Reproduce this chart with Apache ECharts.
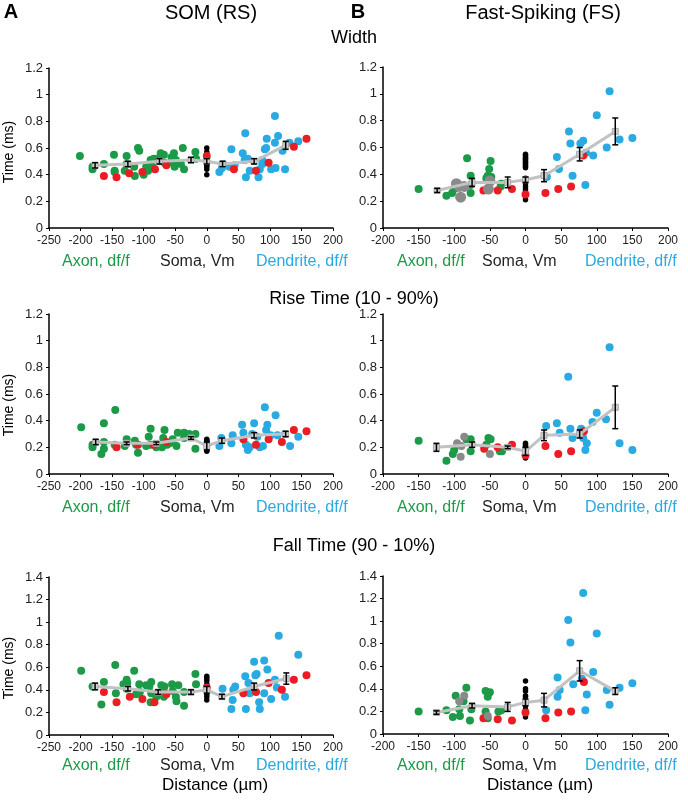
<!DOCTYPE html>
<html>
<head>
<meta charset="utf-8">
<script src="https://cdn.jsdelivr.net/npm/echarts@6/dist/echarts.min.js"></script>
<style>
  html, body { margin: 0; padding: 0; background: #fff; }
  #chart { width: 688px; height: 804px; }
</style>
</head>
<body>
<div id="chart"></div>
<script>
// ---- SOM (RS), Width ----
var somWidthAxon = [[-201,0.54],[-181,0.46],[-181,0.44],[-163,0.48],[-147,0.55],[-146,0.43],[-146,0.42],[-127,0.54],[-127,0.48],[-130,0.43],[-115,0.46],[-114,0.39],[-109,0.60],[-107,0.58],[-100,0.40],[-96,0.46],[-93,0.43],[-89,0.51],[-86,0.46],[-84,0.52],[-79,0.52],[-75,0.50],[-73,0.56],[-68,0.55],[-67,0.49],[-56,0.53],[-54,0.49],[-52,0.56],[-51,0.46],[-49,0.51],[-41,0.48],[-38,0.60],[-36,0.44],[-18,0.57],[-17,0.52]];
var somWidthRed = [[-163,0.39],[-143,0.38],[-123,0.41],[-102,0.42],[-82,0.44],[-64,0.47],[0,0.54],[43,0.44],[78,0.43],[98,0.49],[138,0.61],[158,0.67]];
var somWidthSoma = [0.60,0.57,0.53,0.50,0.47,0.46,0.44,0.40];
var somWidthDend = [[20,0.42],[24,0.45],[26,0.48],[36,0.46],[39,0.59],[44,0.47],[57,0.56],[60,0.51],[61,0.71],[62,0.38],[65,0.52],[68,0.43],[82,0.38],[84,0.44],[88,0.48],[88,0.51],[92,0.59],[94,0.60],[95,0.67],[102,0.44],[108,0.84],[108,0.64],[109,0.45],[113,0.69],[120,0.58],[124,0.44],[131,0.64],[145,0.65]];
var somWidthMean = [[-177,0.47],[-125,0.48],[-75,0.50],[-25,0.51],[0,0.50],[25,0.48],[75,0.50],[125,0.62]];
var somWidthErr = [0.02,0.02,0.02,0.02,0.02,0.02,0.02,0.03];

// ---- FS, Width ----
var fsWidthAxon = [[-150,0.29],[-111,0.24],[-103,0.26],[-100,0.29],[-82,0.52],[-77,0.39],[-77,0.26],[-77,0.32],[-55,0.37],[-53,0.39],[-51,0.44],[-49,0.50],[-48,0.38],[-35,0.31],[-34,0.33]];
var fsWidthGray = [[-97,0.33],[-93,0.31],[-86,0.31],[-91,0.23],[-50,0.35],[-52,0.29]];
var fsWidthRed = [[-59,0.28],[-39,0.28],[-19,0.29],[0,0.25],[28,0.26],[46,0.29],[64,0.31],[81,0.54]];
var fsWidthSoma = [0.55,0.54,0.53,0.52,0.51,0.50,0.49,0.48,0.47,0.46,0.45,0.37,0.36,0.35,0.33,0.31,0.29,0.27,0.24,0.21];
var fsWidthDend = [[30,0.38],[44,0.53],[47,0.44],[61,0.72],[63,0.63],[66,0.39],[77,0.63],[81,0.65],[85,0.56],[84,0.32],[95,0.54],[100,0.84],[114,0.60],[118,1.02],[132,0.66],[150,0.67]];
var fsWidthMean = [[-124,0.28],[-75,0.34],[-25,0.34],[0,0.36],[26,0.39],[76,0.55],[126,0.72]];
var fsWidthErr = [0.015,0.03,0.04,0.02,0.045,0.05,0.10];

// ---- SOM (RS), Rise time ----
var somRiseAxon = [[-199,0.35],[-181,0.22],[-181,0.20],[-167,0.15],[-163,0.38],[-163,0.24],[-163,0.19],[-145,0.48],[-146,0.22],[-127,0.26],[-130,0.21],[-114,0.25],[-112,0.22],[-109,0.16],[-96,0.21],[-89,0.34],[-92,0.28],[-89,0.22],[-80,0.20],[-71,0.20],[-67,0.33],[-69,0.27],[-63,0.22],[-59,0.23],[-54,0.26],[-48,0.21],[-46,0.31],[-36,0.31],[-36,0.27],[-28,0.30],[-18,0.30],[-18,0.19]];
var somRiseRed = [[-143,0.20],[-109,0.22],[-84,0.22],[-64,0.24],[58,0.26],[78,0.22],[98,0.26],[119,0.24],[138,0.33],[158,0.32]];
var somRiseSoma = [0.26,0.25,0.24,0.23,0.22,0.20,0.18,0.17];
var somRiseDend = [[20,0.21],[23,0.27],[39,0.23],[41,0.29],[56,0.37],[58,0.31],[62,0.22],[65,0.18],[68,0.20],[72,0.30],[75,0.38],[80,0.28],[84,0.20],[89,0.21],[92,0.50],[94,0.33],[96,0.37],[101,0.29],[109,0.44],[112,0.29],[124,0.30],[132,0.21],[145,0.28]];
var somRiseMean = [[-176,0.24],[-127,0.23],[-80,0.23],[-25,0.27],[0,0.21],[24,0.25],[75,0.29],[125,0.30]];
var somRiseErr = [0.02,0.01,0.01,0.01,0.03,0.02,0.02,0.02];

// ---- FS, Rise time ----
var fsRiseAxon = [[-150,0.25],[-111,0.10],[-102,0.15],[-100,0.18],[-83,0.26],[-77,0.26],[-77,0.17],[-55,0.22],[-52,0.27],[-49,0.26],[-36,0.17],[-33,0.17]];
var fsRiseGray = [[-96,0.23],[-90,0.21],[-86,0.28],[-91,0.13],[-50,0.15]];
var fsRiseRed = [[-58,0.19],[-39,0.20],[-19,0.22],[0,0.14],[28,0.21],[46,0.15],[64,0.17],[82,0.32]];
var fsRiseSoma = [0.23,0.22,0.21,0.20,0.19,0.17,0.15,0.13,0.12];
var fsRiseDend = [[29,0.36],[44,0.38],[48,0.31],[60,0.73],[63,0.34],[66,0.27],[78,0.34],[81,0.27],[84,0.18],[86,0.23],[94,0.39],[100,0.46],[113,0.41],[118,0.95],[132,0.23],[150,0.18]];
var fsRiseMean = [[-125,0.20],[-75,0.22],[-25,0.20],[0,0.17],[26,0.29],[76,0.30],[126,0.50]];
var fsRiseErr = [0.03,0.02,0.01,0.03,0.04,0.03,0.16];

// ---- SOM (RS), Fall time ----
var somFallAxon = [[-199,0.57],[-181,0.43],[-167,0.27],[-163,0.47],[-145,0.62],[-144,0.37],[-132,0.45],[-127,0.49],[-126,0.46],[-127,0.41],[-115,0.57],[-112,0.36],[-107,0.45],[-106,0.38],[-96,0.44],[-91,0.43],[-88,0.47],[-88,0.37],[-89,0.29],[-80,0.34],[-72,0.44],[-69,0.40],[-68,0.34],[-67,0.43],[-55,0.45],[-54,0.39],[-49,0.34],[-48,0.30],[-45,0.44],[-36,0.26],[-36,0.38],[-18,0.54],[-17,0.45]];
var somFallRed = [[-163,0.38],[-143,0.29],[-122,0.34],[-102,0.32],[-83,0.29],[-64,0.36],[0,0.42],[58,0.37],[78,0.38],[98,0.46],[119,0.40],[138,0.49],[158,0.53]];
var somFallSoma = [0.52,0.50,0.48,0.45,0.42,0.40,0.38,0.36,0.34,0.31];
var somFallDend = [[25,0.41],[39,0.23],[41,0.31],[42,0.40],[45,0.43],[61,0.52],[62,0.23],[66,0.46],[68,0.37],[75,0.65],[77,0.53],[79,0.54],[83,0.29],[84,0.23],[91,0.66],[91,0.37],[96,0.58],[102,0.32],[108,0.49],[111,0.42],[114,0.88],[124,0.34],[145,0.71]];
var somFallMean = [[-177,0.43],[-125,0.41],[-77,0.38],[-25,0.38],[0,0.40],[24,0.34],[75,0.43],[126,0.50]];
var somFallErr = [0.03,0.02,0.02,0.02,0.03,0.02,0.03,0.05];

// ---- FS, Fall time ----
var fsFallAxon = [[-150,0.20],[-111,0.21],[-102,0.15],[-98,0.34],[-93,0.22],[-92,0.16],[-87,0.29],[-83,0.41],[-78,0.12],[-76,0.22],[-56,0.38],[-53,0.33],[-50,0.37],[-56,0.20],[-53,0.14],[-38,0.20],[-34,0.21]];
var fsFallGray = [[-93,0.29],[-86,0.34],[-53,0.16]];
var fsFallRed = [[-59,0.14],[-39,0.13],[-19,0.12],[0,0.19],[28,0.14],[46,0.19],[64,0.20],[82,0.46]];
var fsFallSoma = [0.47,0.40,0.38,0.34,0.33,0.29,0.27,0.25,0.22,0.18,0.15];
var fsFallDend = [[29,0.21],[45,0.50],[45,0.33],[48,0.39],[60,1.01],[63,0.81],[67,0.44],[79,0.49],[81,1.25],[84,0.21],[86,0.35],[95,0.55],[100,0.89],[114,0.39],[118,0.26],[132,0.41],[150,0.45]];
var fsFallMean = [[-125,0.19],[-75,0.25],[-25,0.24],[0,0.28],[26,0.30],[76,0.56],[126,0.38]];
var fsFallErr = [0.015,0.02,0.04,0.03,0.06,0.09,0.03];

var somTicks = [-250, 200];
var fsTicks = [-200, 200];
var panelTitles = ['Width', 'Rise Time (10 - 90%)', 'Fall Time (90 - 10%)'];
var groupLabels = ['Axon, df/f', 'Soma, Vm', 'Dendrite, df/f'];

var GREEN = '#1c9a48', BLUE = '#29aae1', RED = '#ec1c24', GRAY = '#8a8a8a', LINE = '#c2c2c2';
var FONT = "'Liberation Sans', Arial, sans-serif";

var panels = [
  { grid: {left: 49, top: 68, width: 284, height: 160}, x: somTicks, ymax: 1.2,
    axon: somWidthAxon, red: somWidthRed, soma: somWidthSoma, dend: somWidthDend, mean: somWidthMean, err: somWidthErr },
  { grid: {left: 383, top: 67, width: 285, height: 161}, x: fsTicks, ymax: 1.2, graySize: 11,
    axon: fsWidthAxon, gray: fsWidthGray, red: fsWidthRed, soma: fsWidthSoma, dend: fsWidthDend, mean: fsWidthMean, err: fsWidthErr },
  { grid: {left: 49, top: 314, width: 284, height: 160}, x: somTicks, ymax: 1.2,
    axon: somRiseAxon, red: somRiseRed, soma: somRiseSoma, dend: somRiseDend, mean: somRiseMean, err: somRiseErr },
  { grid: {left: 383, top: 314, width: 285, height: 160}, x: fsTicks, ymax: 1.2, graySize: 8,
    axon: fsRiseAxon, gray: fsRiseGray, red: fsRiseRed, soma: fsRiseSoma, dend: fsRiseDend, mean: fsRiseMean, err: fsRiseErr },
  { grid: {left: 49, top: 577, width: 284, height: 158}, x: somTicks, ymax: 1.4,
    axon: somFallAxon, red: somFallRed, soma: somFallSoma, dend: somFallDend, mean: somFallMean, err: somFallErr },
  { grid: {left: 383, top: 576, width: 285, height: 158}, x: fsTicks, ymax: 1.4, graySize: 8,
    axon: fsFallAxon, gray: fsFallGray, red: fsFallRed, soma: fsFallSoma, dend: fsFallDend, mean: fsFallMean, err: fsFallErr }
];

var chart = echarts.init(document.getElementById('chart'));
var grids = [], xAxes = [], yAxes = [], series = [];

function dots(i, data, color, size, z) {
  return { type: 'scatter', xAxisIndex: i, yAxisIndex: i, data: data, symbolSize: size, z: z,
    itemStyle: { color: color, opacity: 1 }, silent: true, animation: false };
}

function errorBars(i, mean, err) {
  var data = mean.map(function (m, k) { return [m[0], m[1] - err[k], m[1] + err[k]]; });
  return { type: 'custom', xAxisIndex: i, yAxisIndex: i, z: 12, data: data, animation: false, silent: true,
    renderItem: function (params, api) {
      var hi = api.coord([api.value(0), api.value(2)]);
      var lo = api.coord([api.value(0), api.value(1)]);
      var st = { stroke: '#000', lineWidth: 1.5 };
      return { type: 'group', children: [
        { type: 'line', shape: { x1: hi[0], y1: hi[1], x2: lo[0], y2: lo[1] }, style: st },
        { type: 'line', shape: { x1: hi[0] - 3, y1: hi[1], x2: hi[0] + 3, y2: hi[1] }, style: st },
        { type: 'line', shape: { x1: lo[0] - 3, y1: lo[1], x2: lo[0] + 3, y2: lo[1] }, style: st }
      ]};
    }
  };
}

panels.forEach(function (p, i) {
  grids.push(p.grid);
  xAxes.push({ type: 'value', gridIndex: i, min: p.x[0], max: p.x[1], interval: 50,
    splitLine: { show: false },
    axisLine: { onZero: false, lineStyle: { color: '#000', width: 1.5 } },
    axisTick: { show: true, length: 3, lineStyle: { color: '#000' } },
    axisLabel: { color: '#222', fontSize: 12, fontFamily: FONT, margin: 7, showMinLabel: true, showMaxLabel: true } });
  yAxes.push({ type: 'value', gridIndex: i, min: 0, max: p.ymax, interval: 0.2,
    splitLine: { show: false },
    axisLine: { show: true, onZero: false, lineStyle: { color: '#000', width: 1.5 } },
    axisTick: { show: true, length: 3, lineStyle: { color: '#000' } },
    axisLabel: { color: '#222', fontSize: 13, fontFamily: FONT, margin: 6,
      formatter: function (v) { return String(+v.toFixed(1)); } } });

  series.push(dots(i, p.axon, GREEN, 8, 2));
  series.push(dots(i, p.dend, BLUE, 8, 2));
  series.push(dots(i, p.soma.map(function (v) { return [0, v]; }), '#000', 5.5, 3));
  series.push(dots(i, p.red, RED, 8, 4));
  if (p.gray) series.push(dots(i, p.gray, GRAY, p.graySize, 5));
  series.push({ type: 'line', xAxisIndex: i, yAxisIndex: i, data: p.mean, z: 10, animation: false, silent: true,
    lineStyle: { color: LINE, width: 3 }, symbol: 'rect', symbolSize: 6, showSymbol: true,
    itemStyle: { color: '#cfcfcf', borderColor: '#a8a8a8', borderWidth: 1 } });
  series.push(errorBars(i, p.mean, p.err));
});

function txt(x, y, text, size, color, opts) {
  opts = opts || {};
  return { type: 'text', x: x, y: y, rotation: opts.rotation || 0, z: 20,
    style: { text: text, fontSize: size, fontFamily: opts.family || FONT, fontWeight: opts.weight || 'normal',
      fill: color, align: opts.align || 'center', verticalAlign: 'middle' } };
}

var graphics = [
  txt(11, 12, 'A', 20, '#000', { weight: 'bold' }),
  txt(211, 13, 'SOM (RS)', 20, '#000'),
  txt(358, 12, 'B', 20, '#000', { weight: 'bold' }),
  txt(543, 13, 'Fast-Spiking (FS)', 20, '#000')
];
var titleY = [38, 299, 546];
var labelY = [262, 508, 766];
var yNameY = [152, 405, 668];
for (var r = 0; r < 3; r++) {
  graphics.push(txt(354, titleY[r], panelTitles[r], 18, '#000'));
  graphics.push(txt(62, labelY[r], groupLabels[0], 16, GREEN, { align: 'left' }));
  graphics.push(txt(160, labelY[r], groupLabels[1], 16, '#231f20', { align: 'left' }));
  graphics.push(txt(256, labelY[r], groupLabels[2], 16, BLUE, { align: 'left' }));
  graphics.push(txt(397, labelY[r], groupLabels[0], 16, GREEN, { align: 'left' }));
  graphics.push(txt(482, labelY[r], groupLabels[1], 16, '#231f20', { align: 'left' }));
  graphics.push(txt(585, labelY[r], groupLabels[2], 16, BLUE, { align: 'left' }));
  graphics.push(txt(9, yNameY[r], 'Time (ms)', 14, '#000',
    { rotation: Math.PI / 2, family: "'Liberation Sans Narrow', 'Liberation Sans', Arial, sans-serif" }));
}
graphics.push(txt(215, 785, 'Distance (µm)', 17, '#000'));
graphics.push(txt(540, 785, 'Distance (µm)', 17, '#000'));

chart.setOption({
  backgroundColor: '#fff',
  animation: false,
  grid: grids,
  xAxis: xAxes,
  yAxis: yAxes,
  series: series,
  graphic: graphics
});
</script>
</body>
</html>
